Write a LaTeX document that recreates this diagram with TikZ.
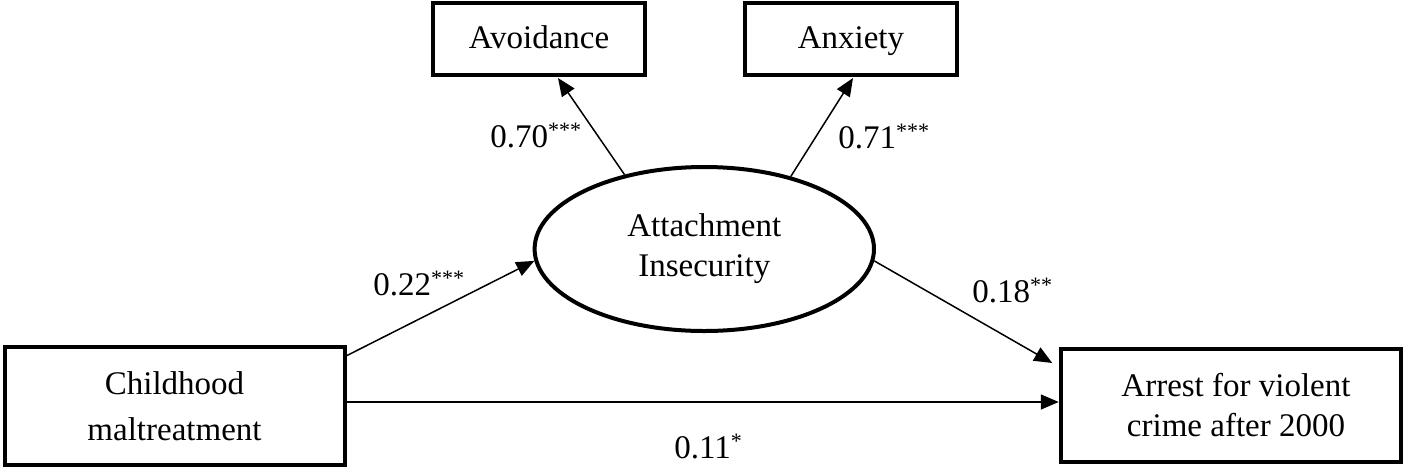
\documentclass[tikz,border=0pt]{standalone}
\usepackage{fontspec}
\setmainfont{Liberation Serif}
\usetikzlibrary{shapes.geometric,arrows.meta,calc}
\newcommand\mysig[1]{\raisebox{5pt}{\fontsize{11pt}{11pt}\selectfont #1}}
\begin{document}
\begin{tikzpicture}[x=0.5pt,y=-0.5pt,
  every node/.style={font=\fontsize{16.5pt}{20pt}\selectfont},
  box/.style={draw, line width=2pt, rectangle, inner sep=0pt, align=center},
  smallbox/.style={box, minimum width=106pt, minimum height=36pt, text height=11.5pt, text depth=2.5pt},
  latent/.style={draw, line width=2pt, ellipse, inner sep=0pt, minimum width=169.7pt, minimum height=82pt, align=center},
  arr/.style={line width=0.75pt, -{Triangle[length=9pt,width=7.5pt]}},
  coef/.style={anchor=base west, inner sep=0pt}]
\useasboundingbox (0,0) rectangle (1405,468);
\node[box, minimum width=170pt, minimum height=58.75pt, font=\fontsize{16.5pt}{23pt}\selectfont] (child) at (174.5,406) {Childhood\\maltreatment};
\node[box, minimum width=170.25pt, minimum height=56.5pt] (arrest) at (1231,405.5) {\hspace*{5pt}Arrest for violent\\\hspace*{5pt}crime after 2000};
\node[smallbox] (avoid) at (539,39) {Avoidance};
\node[smallbox] (anx) at (851,39) {Anxiety};
\node[latent] (ell) at (704.3,249) {Attachment\\Insecurity};
\draw[arr] ($(child.north east)+(0,10.5)$) -- (ell.184.3);
\draw[arr] (ell.137.9) -- ($(avoid.south)+(19,1)$);
\draw[arr] (ell.40.9) -- ($(anx.south)+(2,1)$);
\draw[arr] (ell.-4.3) -- ($(arrest.north west)+(-6.5,16)$);
\draw[arr] ($(child.east)+(0,-4)$) coordinate (h) -- (h -| arrest.west);
\node[coef] (l1) at (490,147) {0.70\mysig{***}};
\node[coef] (l2) at (838,148) {0.71\mysig{***}};
\node[coef] (l3) at (373,295) {0.22\mysig{***}};
\node[coef] (l4) at (972,302) {0.18\mysig{**}};
\node[coef] (l5) at (674,458) {0.11\mysig{*}};
\end{tikzpicture}
\end{document}
